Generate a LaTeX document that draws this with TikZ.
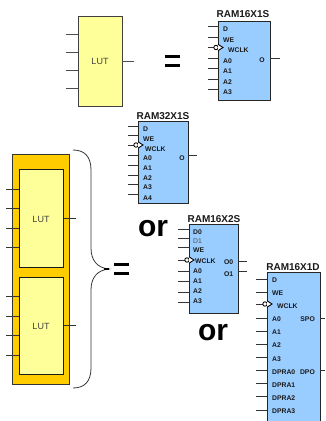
\documentclass[tikz,border=0pt]{standalone}
\usepackage{fontspec}
\setmainfont{Liberation Sans}
\definecolor{lutyellow}{HTML}{FFFF99}
\definecolor{ramblue}{HTML}{99CCFF}
\definecolor{sliceorange}{HTML}{FFCC00}
\definecolor{wire}{HTML}{333333}
\tikzset{
  blockbox/.style={draw=#1,line width=1pt,inner sep=0,outer sep=0},
  lutbox/.style={blockbox=black!75,fill=lutyellow},
  rambox/.style={blockbox=black!85,fill=ramblue},
  slicebox/.style={blockbox=black!80,fill=sliceorange},
  wirepin/.style={draw=wire,line width=.8pt},
  luttext/.style={font=\fontsize{9}{9}\selectfont,text=black!75,inner sep=0},
  ramtitle/.style={font=\fontsize{10}{10}\selectfont\bfseries,inner sep=0,text=black!90},
  pintext/.style={font=\fontsize{6.8}{7}\selectfont\bfseries,inner sep=0,anchor=west,text=black!90},
  bigeq/.style={font=\fontsize{30}{30}\selectfont\bfseries,inner sep=0},
  bar/.style={fill=black,draw=none,inner sep=0,outer sep=0,minimum width=15,minimum height=3}
}
% left pins: pin y / label y / label
\newcommand{\leftpins}[4]{%
  \foreach \py/\ly/\tx [count=\n] in {#4} {
    \draw[wirepin] (#1.west |- 0,\py) -- ++(-#2,0);
    \node[pintext] (#1-l\n) at ([xshift=#3]#1.west |- 0,\ly) {\tx};
  }}
\newcommand{\clockpin}[5]{% box, pin length, pin y, label x, label y
  \draw[wirepin] (#1.west |- 0,#3) -- ++(-#2,0);
  \draw[black,line width=.9pt,fill=white] ([xshift=-2]#1.west |- 0,#3) circle (2.2);
  \draw[black,line width=.9pt,fill=white,line join=miter] ([yshift=3.2]#1.west |- 0,#3) -- ++(5,3.2) -- ++(-5,3.2);
  \node[pintext] (#1-clk) at ([xshift=#4]#1.west |- 0,#5) {WCLK};
}
\newcommand{\lutpins}[2]{%
  \foreach \py in {#2} { \draw[wirepin] (#1.west |- 0,\py) -- ++(-13,0); }
}
\begin{document}
\begin{tikzpicture}[x=1pt,y=-1pt]
\useasboundingbox (0,0) rectangle (325,421);
% top LUT
\node[lutbox,minimum width=44,minimum height=90] (lut0) at (100,61) {};
\node[luttext] (lut0t) at (100,61) {LUT};
\foreach \py in {34,52,70,88} { \draw[wirepin,draw=black!70] (lut0.west |- 0,\py) -- ++(-12,0); }
\draw[wirepin,draw=black!70] (lut0.east) -- ++(12,0);
\node[bar] (eq1a) at (172,56.5) {};
\node[bar] (eq1b) at (172,65.5) {};
% RAM16X1S
\node[rambox,minimum width=52,minimum height=78.5,anchor=north west] (rs) at (218,21.5) {};
\node[ramtitle] (rst) at (243,14) {RAM16X1S};
\leftpins{rs}{10}{5}{26/29/D,37/40/WE,58/61/A0,68.5/71/A1,79/82/A2,89.5/92/A3}
\clockpin{rs}{10}{47.5}{10}{50}
\draw[wirepin] (rs.east |- 0,58) -- ++(10,0);
\node[pintext,anchor=center] (rso) at (262,60) {O};
% RAM32X1S
\node[rambox,minimum width=50,minimum height=82,anchor=north west] (rl) at (138,121) {};
\node[ramtitle] (rlt) at (163,116) {RAM32X1S};
\leftpins{rl}{10}{5}{126/129/D,135/139/WE,155/158/A0,165/168/A1,175/178/A2,184/187/A3,194/198/A4}
\clockpin{rl}{10}{145}{7}{149}
\draw[wirepin] (rl.east |- 0,155) -- ++(9,0);
\node[pintext,anchor=center] (rlo) at (182,158) {O};
% RAM16X2S
\node[rambox,minimum width=49,minimum height=89,anchor=north west] (rt) at (189,224) {};
\node[ramtitle] (rtt) at (214,219) {RAM16X2S};
\leftpins{rt}{11}{4}{229/232/D0,247/250/WE,271/271/A0,281/281/A1,292/291/A2,302/301/A3}
\draw[wirepin] (rt.west |- 0,238) -- ++(-11,0);
\node[pintext,font=\fontsize{6.8}{7}\selectfont,text=black!70] (rtd1) at ([xshift=4]rt.west |- 0,241) {D1};
\clockpin{rt}{11}{260}{6}{261}
\draw[wirepin] (rt.east |- 0,261) -- ++(9,0);
\draw[wirepin] (rt.east |- 0,271) -- ++(9,0);
\node[pintext] (rto0) at (224,262) {O0};
\node[pintext] (rto1) at (224,274) {O1};
% RAM16X1D
\node[rambox,minimum width=53,minimum height=152,anchor=north west] (rd) at (267,272) {};
\node[ramtitle] (rdt) at (293,267) {RAM16X1D};
\leftpins{rd}{11}{5}{279/280/D,292/293/WE,318/319/A0,331/332/A1,344/345/A2,357/359/A3,370/372/DPRA0,383/385/DPRA1,396/398/DPRA2,410/411/DPRA3}
\clockpin{rd}{11}{304}{10}{306}
\draw[wirepin] (rd.east |- 0,318) -- ++(5,0);
\draw[wirepin] (rd.east |- 0,370) -- ++(5,0);
\node[pintext,anchor=east] (rdspo) at (315,319) {SPO};
\node[pintext,anchor=east] (rddpo) at (315,372) {DPO};
% slice with two LUTs
\node[slicebox,minimum width=56.5,minimum height=230,anchor=north west] (slice) at (12.5,154) {};
\node[lutbox,draw=black!90,minimum width=44.5,minimum height=98,anchor=north west] (lut1) at (19,169) {};
\node[lutbox,draw=black!90,minimum width=44.5,minimum height=97,anchor=north west] (lut2) at (19,277) {};
\node[luttext] (lut1t) at (41,219) {LUT};
\node[luttext] (lut2t) at (41,326) {LUT};
\lutpins{lut1}{189,208,228,247}
\lutpins{lut2}{296,316,335,355}
\draw[wirepin] (lut1.east |- 0,218) -- ++(12.5,0);
\draw[wirepin] (lut2.east |- 0,325) -- ++(12.5,0);
% brace
\coordinate (bt) at (73,150);
\coordinate (bm) at (109,269);
\coordinate (bb) at (73,388);
\draw[black!80,line width=.8pt] (bt) .. controls (84,150) and (91,156) .. (91,170)
  -- (91,248) .. controls (91,260) and (97,268) .. (bm)
  .. controls (97,270) and (91,278) .. (91,290)
  -- (91,368) .. controls (91,382) and (84,388) .. (bb);
\draw[black,line width=1.5pt] (104,269) -- (bm);
\node[bar] (eq2a) at (121.5,264.5) {};
\node[bar] (eq2b) at (121.5,273.5) {};
% or
\node[bigeq] (or1) at (153,229) {or};
\node[bigeq] (or2) at (213,333) {or};
\end{tikzpicture}
\end{document}
